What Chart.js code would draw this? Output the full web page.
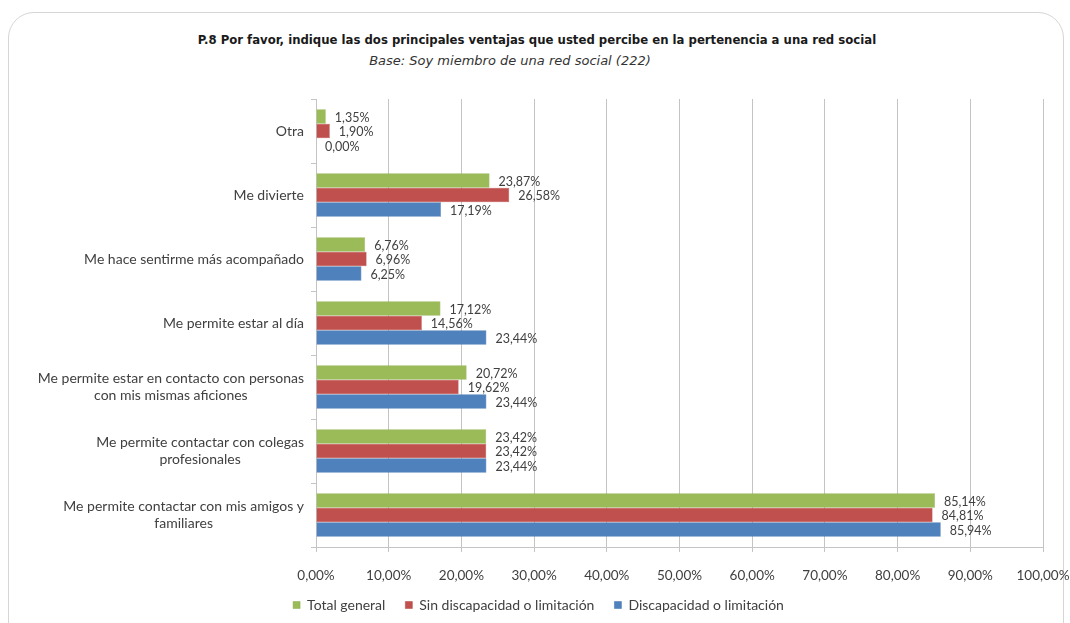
<!DOCTYPE html>
<html>
<head>
<meta charset="utf-8">
<script src="https://cdn.jsdelivr.net/npm/chart.js@4.4.0/dist/chart.umd.min.js"></script>
<style>
  html, body { margin: 0; padding: 0; background: #fff; }
  #wrap { position: relative; width: 1070px; height: 623px; overflow: hidden; }
  #panel {
    position: absolute; left: 8px; top: 12px; width: 1056px; height: 700px;
    border: 1.5px solid #d6d6d6; border-radius: 26px; box-sizing: border-box;
  }
  #title {
    position: absolute; left: 0; width: 1074px; top: 32px; text-align: center;
    font: bold 13px "DejaVu Sans Condensed", "DejaVu Sans", sans-serif; color: #1a1a1a;
  }
  #subtitle {
    position: absolute; left: 0; width: 1020px; top: 53px; text-align: center;
    font: italic 13px "DejaVu Sans", sans-serif; color: #333;
  }
  #chart { position: absolute; left: 0; top: 0; }
</style>
</head>
<body>
<div id="wrap">
  <div id="panel"></div>
  <div id="title">P.8 Por favor, indique las dos principales ventajas que usted percibe en la pertenencia a una red social</div>
  <div id="subtitle">Base: Soy miembro de una red social (222)</div>
  <canvas id="chart" width="1070" height="623"></canvas>
</div>
<script>
// Categories, top to bottom
const categories = [
  ['Otra'],
  ['Me divierte'],
  ['Me hace sentirme más acompañado'],
  ['Me permite estar al día'],
  ['Me permite estar en contacto con personas', 'con mis mismas aficiones'],
  ['Me permite contactar con colegas', 'profesionales'],
  ['Me permite contactar con mis amigos y', 'familiares']
];

// Percentages per group
const totalGeneral = [1.35, 23.87, 6.76, 17.12, 20.72, 23.42, 85.14];
const sinDiscapacidad = [1.90, 26.58, 6.96, 14.56, 19.62, 23.42, 84.81];
const conDiscapacidad = [0.00, 17.19, 6.25, 23.44, 23.44, 23.44, 85.94];

const xTicks = [0, 10, 20, 30, 40, 50, 60, 70, 80, 90, 100];

const fmt = v => v.toFixed(2).replace('.', ',') + '%';
const textColor = '#404040';
const gridColor = '#c4c4c4';
const baseFont = 'Lato, "Open Sans", sans-serif';

// value labels at the end of every bar
const barLabels = {
  id: 'barLabels',
  afterDatasetsDraw(chart) {
    const ctx = chart.ctx;
    ctx.save();
    ctx.font = '12.5px ' + baseFont;
    ctx.fillStyle = textColor;
    ctx.textAlign = 'left';
    ctx.textBaseline = 'middle';
    chart.data.datasets.forEach((ds, di) => {
      chart.getDatasetMeta(di).data.forEach((bar, i) => {
        ctx.fillText(fmt(ds.data[i]), bar.x + 9, bar.y + 1);
      });
    });
    ctx.restore();
  }
};

// category labels: block right-aligned to the axis, lines centered inside the block
const categoryLabels = {
  id: 'categoryLabels',
  afterDraw(chart) {
    const ctx = chart.ctx;
    const y = chart.scales.y;
    ctx.save();
    ctx.font = '14px ' + baseFont;
    ctx.fillStyle = textColor;
    ctx.textAlign = 'center';
    ctx.textBaseline = 'middle';
    const lineH = 17;
    categories.forEach((lines, i) => {
      const w = Math.max(...lines.map(l => ctx.measureText(l).width));
      const cx = y.right - 12 - w / 2;
      const cy = y.getPixelForValue(i);
      lines.forEach((l, k) => {
        ctx.fillText(l, cx, cy + (k - (lines.length - 1) / 2) * lineH);
      });
    });
    ctx.restore();
  }
};

// nudge the legend box up and right after layout
const legendShift = {
  id: 'legendShift',
  afterLayout(chart) {
    const lg = chart.legend;
    lg.top -= 9; lg.bottom -= 9;
    lg.left += 17; lg.right += 17;
  }
};

new Chart(document.getElementById('chart'), {
  type: 'bar',
  data: {
    labels: categories,
    datasets: [
      { label: 'Total general', data: totalGeneral, backgroundColor: '#9BBB59', borderColor: '#8aab48', borderWidth: 0.5 },
      { label: 'Sin discapacidad o limitación', data: sinDiscapacidad, backgroundColor: '#C0504D', borderColor: '#b0403d', borderWidth: 0.5 },
      { label: 'Discapacidad o limitación', data: conDiscapacidad, backgroundColor: '#4F81BD', borderColor: '#3f71ad', borderWidth: 0.5 }
    ]
  },
  options: {
    indexAxis: 'y',
    responsive: false,
    animation: false,
    categoryPercentage: 0.68,
    barPercentage: 1.0,
    layout: { padding: { top: 99, right: 27, left: 0, bottom: -8 } },
    scales: {
      x: {
        min: 0, max: 100,
        afterBuildTicks: s => { s.ticks = xTicks.map(v => ({ value: v })); },
        ticks: {
          callback: v => fmt(v),
          font: { family: baseFont, size: 13.5 },
          color: textColor,
          padding: 16,
          maxRotation: 0
        },
        grid: { color: gridColor, lineWidth: 1, tickLength: 5 },
        border: { color: gridColor },
        afterFit: s => {
          s.height = 40;
          s.paddingLeft = 0;
          s.paddingRight = 0;
        }
      },
      y: {
        ticks: { display: false },
        grid: { drawOnChartArea: false, offset: true, color: gridColor, tickLength: 5 },
        border: { color: gridColor },
        afterFit: s => { s.width = 316; }
      }
    },
    plugins: {
      legend: {
        position: 'bottom',
        labels: {
          boxWidth: 7, boxHeight: 7, padding: 20,
          font: { family: baseFont, size: 14 },
          color: textColor
        }
      },
      tooltip: { enabled: false }
    }
  },
  plugins: [barLabels, categoryLabels, legendShift]
});
</script>
</body>
</html>
